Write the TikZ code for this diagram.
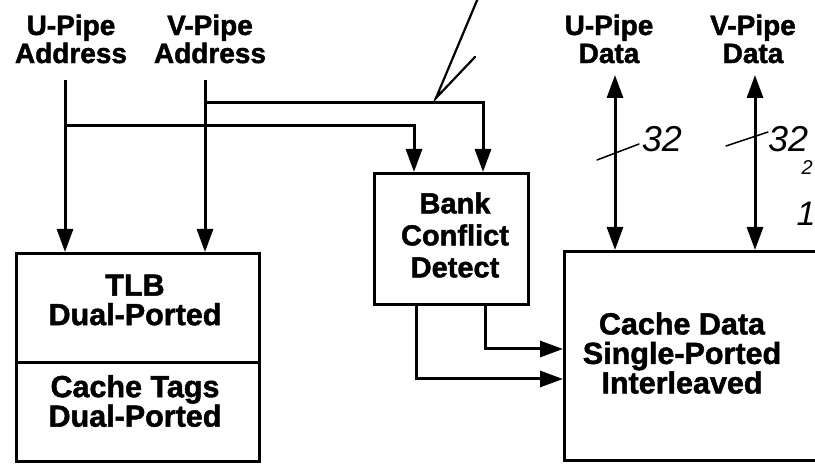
\documentclass[tikz,border=0pt]{standalone}
\usepackage{fontspec}
\setmainfont{Liberation Sans}[BoldFeatures={FakeBold=1.6}]
\usetikzlibrary{arrows.meta}
\begin{document}
\begin{tikzpicture}[x=1pt,y=-1pt,
  box/.style={draw,line width=3.2pt,inner sep=0pt},
  hdr/.style={font=\fontsize{28}{28}\selectfont\bfseries,align=center,inner sep=0pt},
  btxt/.style={font=\fontsize{30.5}{29.5}\selectfont\bfseries,align=center,inner sep=0pt},
  wire/.style={line width=3pt},
  arr/.style={wire,-{Triangle[length=23pt,width=16pt]}},
  darr/.style={wire,{Triangle[length=23pt,width=16pt]}-{Triangle[length=23pt,width=16pt]}},
  hand/.style={font=\fontsize{36}{36}\selectfont\itshape\rmfamily\mdseries,inner sep=0pt},
  pen/.style={line width=1.5pt,line cap=round}]
\useasboundingbox (0,0) rectangle (815,465);
\clip (0,0) rectangle (815,465);
\fill[white] (0,0) rectangle (815,465);
% boxes
\node[box,minimum width=243pt,minimum height=109pt,anchor=north west] (tlb) at (15,252) {};
\node[box,minimum width=243pt,minimum height=99pt,anchor=north west] (tags) at (15,361) {};
\node[box,minimum width=154pt,minimum height=131pt,anchor=north west] (bank) at (373,172) {};
\node[box,minimum width=280pt,minimum height=209pt,anchor=north west] (cache) at (563,250) {};
% box texts
\node[btxt] (tlbt) at (135,300) {TLB\\Dual-Ported};
\node[btxt] (tagst) at (135,401) {Cache Tags\\Dual-Ported};
\node[btxt,font=\fontsize{29}{32}\selectfont\bfseries] (bankt) at (455,235) {Bank\\Conflict\\Detect};
\node[btxt] (cachet) at (682,353) {Cache Data\\Single-Ported\\Interleaved};
% headers
\node[hdr] (ua) at (71,39) {U-Pipe\\Address};
\node[hdr] (va) at (210,39) {V-Pipe\\Address};
\node[hdr] (ud) at (609,39) {U-Pipe\\Data};
\node[hdr] (vd) at (753,39) {V-Pipe\\Data};
% address wires
\coordinate (u0) at (65,80);
\coordinate (v0) at (205,80);
\coordinate (uy) at (0,126);
\coordinate (vy) at (0,103);
\coordinate (ub) at (414,0);
\coordinate (vb) at (483,0);
\draw[arr] (u0) -- (u0 |- tlb.north);
\draw[arr] (v0) -- (v0 |- tlb.north);
\draw[arr] (u0 |- uy) -- (ub |- uy) -- (ub |- bank.north);
\draw[arr] (v0 |- vy) -- (vb |- vy) -- (vb |- bank.north);
% bank outputs
\coordinate (b1) at (485,349);
\coordinate (b2) at (416,379);
\draw[arr] (b1 |- bank.south) -- (b1) -- (cache.west |- b1);
\draw[arr] (b2 |- bank.south) -- (b2) -- (cache.west |- b2);
% data wires
\coordinate (d1) at (615,75);
\coordinate (d2) at (755,75);
\draw[darr] (d1) -- (d1 |- cache.north);
\draw[darr] (d2) -- (d2 |- cache.north);
% handwritten annotations
\coordinate (n1) at (597,160);
\coordinate (n2) at (639,144);
\coordinate (n3) at (726,146);
\coordinate (n4) at (768,132);
\draw[pen] (n1) -- (n2);
\draw[pen] (n3) -- (n4);
\node[hand] (w1) at (662,139) {32};
\node[hand,anchor=west] (w2) at (768,139) {32};
\node[hand,font=\fontsize{20}{20}\selectfont\itshape\rmfamily,anchor=east] (w3) at (813,168) {2};
\node[hand,font=\fontsize{34}{34}\selectfont\itshape\rmfamily] (w4) at (806,214) {1};
\coordinate (a0) at (478,-2);
\coordinate (a1) at (436,98);
\coordinate (a2) at (475,57);
\draw[line width=2.2pt,line cap=round] (a0) -- (a1) -- (a2);
\end{tikzpicture}
\end{document}
